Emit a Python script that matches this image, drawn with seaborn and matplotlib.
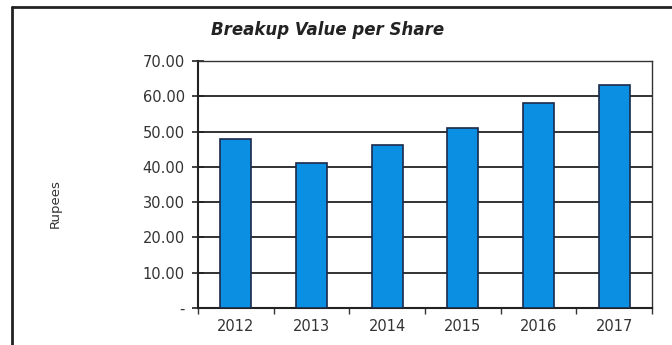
import numpy as np
import pandas as pd
import matplotlib
matplotlib.use("Agg")
import matplotlib.pyplot as plt
from matplotlib.lines import Line2D
from matplotlib.ticker import FuncFormatter, MultipleLocator
import seaborn as sns

years = ["2012", "2013", "2014", "2015", "2016", "2017"]
breakup_value = [47.8, 41.0, 46.2, 51.0, 58.0, 63.1]

sns.set_theme(style="white")
plt.rcParams["font.family"] = ["DejaVu Sans"]

df = pd.DataFrame({"Year": years, "Value": breakup_value})

fig = plt.figure(figsize=(6.72, 3.45), dpi=100)
ax = fig.add_axes([0.2946, 0.1072, 0.6756, 0.716])

sns.barplot(data=df, x="Year", y="Value", color="#0a8fe2", width=0.41,
            edgecolor="#1b2a4a", linewidth=1.2, saturation=1, ax=ax, zorder=3)

ax.set_xlim(-0.5, 5.5)
ax.set_ylim(0, 70)
ax.yaxis.set_major_locator(MultipleLocator(10))
ax.yaxis.set_major_formatter(FuncFormatter(lambda v, p: "-" if abs(v) < 1e-9 else f"{v:.2f}"))
ax.grid(axis="y", color="#222222", linewidth=1.3, zorder=0)
ax.set_axisbelow(True)

for s in ax.spines.values():
    s.set_visible(True)
    s.set_color("#333333")
    s.set_linewidth(1.0)
ax.spines["left"].set_color("#222222")
ax.spines["left"].set_linewidth(1.5)
ax.spines["bottom"].set_color("#222222")
ax.spines["bottom"].set_linewidth(1.5)

ax.set_xlabel("")
ax.set_ylabel("")
ax.tick_params(axis="y", which="major", direction="inout", length=9, width=1.2,
               color="#222222", labelsize=10.5, labelcolor="#333333", pad=5, left=True)
ax.set_xticks(np.arange(-0.5, 6, 1), minor=True)
ax.tick_params(axis="x", which="major", length=0, labelsize=10.5, labelcolor="#333333", pad=8)
ax.tick_params(axis="x", which="minor", direction="out", length=4, width=1.0,
               color="#333333", bottom=True)

fig.text(0.488, 0.913, "Breakup Value per Share", ha="center", va="center",
         fontsize=12, fontweight="bold", fontstyle="italic", color="#222222")
fig.text(0.082, 0.41, "Rupees", rotation=90, ha="center", va="center",
         fontsize=9.5, color="#333333")

# outer frame around the chart area
fig.add_artist(Line2D([12 / 672, 12 / 672], [0, 1 - 7 / 345], transform=fig.transFigure,
                      color="#222222", linewidth=2))
fig.add_artist(Line2D([12 / 672, 1], [1 - 7 / 345, 1 - 7 / 345], transform=fig.transFigure,
                      color="#222222", linewidth=2))

fig.savefig("out.png", dpi=100)
